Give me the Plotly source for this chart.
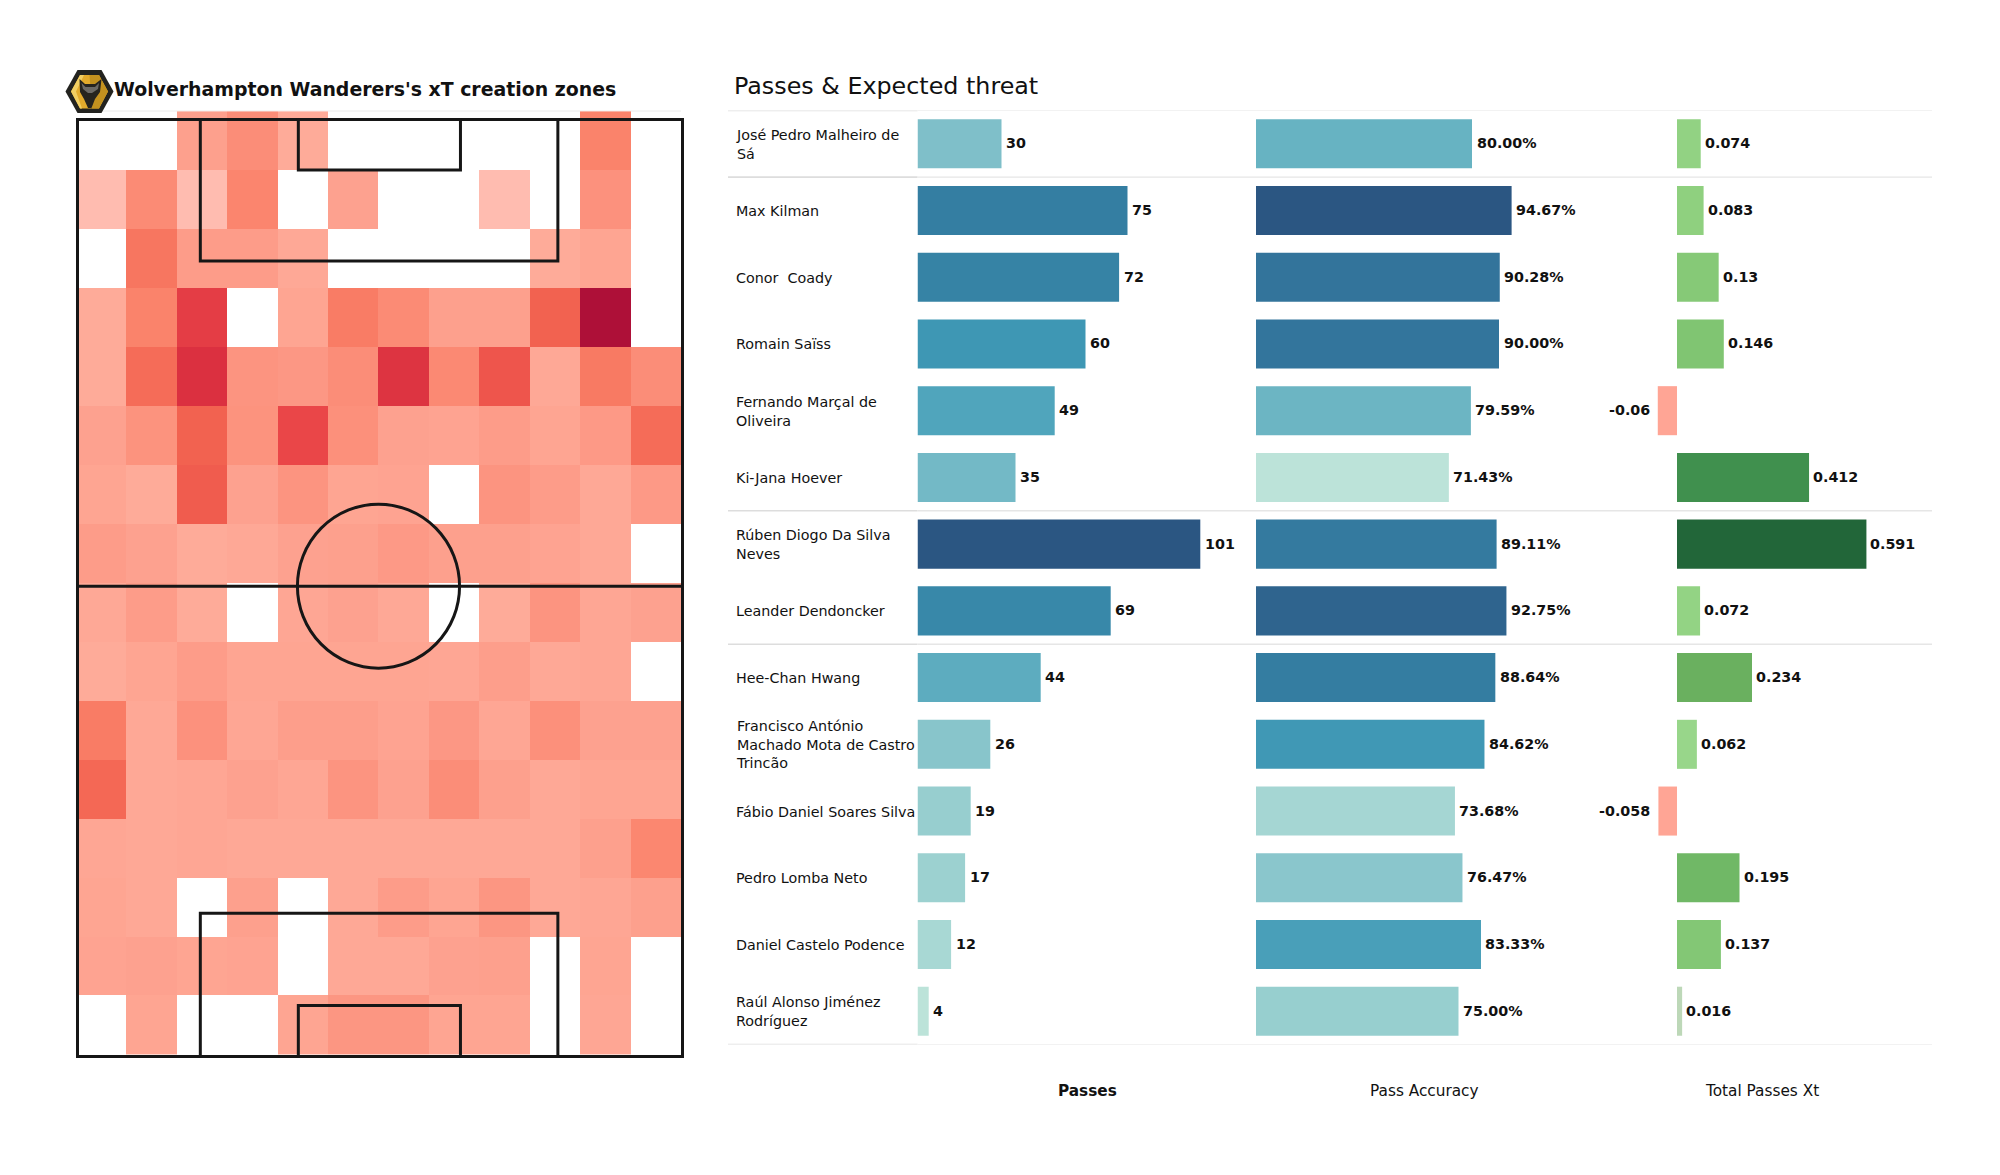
import plotly.graph_objects as go

W, H = 2000, 1175

# ---------- data ----------
players = [
    "José Pedro Malheiro de<br>Sá", "Max Kilman", "Conor  Coady", "Romain Saïss",
    "Fernando Marçal de<br>Oliveira", "Ki-Jana Hoever", "Rúben Diogo Da Silva<br>Neves",
    "Leander Dendoncker", "Hee-Chan Hwang",
    "Francisco António<br>Machado Mota de Castro<br>Trincão",
    "Fábio Daniel Soares Silva", "Pedro Lomba Neto", "Daniel Castelo Podence",
    "Raúl Alonso Jiménez<br>Rodríguez",
]
passes = [30, 75, 72, 60, 49, 35, 101, 69, 44, 26, 19, 17, 12, 4]
accuracy = [80.00, 94.67, 90.28, 90.00, 79.59, 71.43, 89.11, 92.75, 88.64, 84.62, 73.68, 76.47, 83.33, 75.00]
total_xt = [0.074, 0.083, 0.13, 0.146, -0.06, 0.412, 0.591, 0.072, 0.234, 0.062, -0.058, 0.195, 0.137, 0.016]
separator_rows = [-0.5, 0.5, 5.5, 7.5, 13.5]
column_titles = ["Passes", "Pass Accuracy", "Total Passes Xt"]

zones = [
    [None, None, .18, .30, .12, None, None, None, None, None, .38, None],
    [.05, .32, .05, .36, None, .17, None, None, .05, None, .27, None],
    [None, .45, .20, .20, .13, None, None, None, None, .12, .15, None],
    [.12, .38, .75, None, .15, .42, .32, .18, .18, .55, 1.0, None],
    [.12, .50, .82, .25, .23, .30, .80, .33, .62, .13, .43, .30],
    [.17, .26, .55, .26, .70, .28, .17, .16, .20, .15, .22, .50],
    [.15, .12, .58, .17, .25, .15, .16, None, .25, .20, .13, .22],
    [.20, .17, .12, .13, .17, .18, .22, .18, .18, .16, .13, None],
    [.13, .20, .12, None, .14, .17, .13, None, .12, .25, .14, .17],
    [.12, .15, .20, .15, .15, .15, .15, .14, .19, .13, .14, None],
    [.42, .13, .27, .14, .19, .19, .16, .23, .14, .28, .17, .17],
    [.52, .13, .14, .17, .14, .25, .17, .30, .18, .13, .15, .15],
    [.14, .13, .14, .13, .13, .13, .13, .13, .13, .13, .18, .35],
    [.15, .13, None, .18, None, .13, .20, .15, .24, .13, .14, .18],
    [.16, .17, .15, .16, None, .13, .13, .17, .18, None, .15, None],
    [None, .15, None, None, .15, .24, .24, .15, .15, None, .14, None],
]

# ---------- styles ----------
FONT = "DejaVu Sans"
INK = "#111111"
LINE = "#161616"
heat_scale = [
    [0, "#ffbfb3"], [.05, "#ffbcb0"], [.13, "#fea896"], [.25, "#fc9480"], [.40, "#fa8068"],
    [.55, "#f26250"], [.70, "#ea4648"], [.82, "#db3040"], [1, "#ae1038"],
]
blue_scale = [
    [0, "#bce3d9"], [.15, "#98cfcf"], [.27, "#7fbfc9"], [.37, "#67b3c2"], [.46, "#51a5bc"],
    [.58, "#3e97b4"], [.73, "#347ea2"], [.85, "#336f98"], [1, "#2b5682"],
]
xt_scale = [
    [0, "#ffa595"], [.09, "#ffa595"], [.095, "#c4dcc0"], [.1167, "#bdd8b8"], [.187, "#98d68a"],
    [.206, "#92d283"], [.22, "#8fd07f"], [.292, "#86c977"], [.316, "#80c572"], [.392, "#70b866"],
    [.452, "#6ab05f"], [.725, "#40904e"], [1, "#226639"],
]


def pxx(v):
    return v / W


def pxy(v):
    return 1 - v / H


fig = go.Figure()

# ---------- pitch heat map ----------
fig.add_trace(go.Heatmap(
    z=zones, x0=3.917, dx=100 / 12, y0=2.285, dy=6.29,
    colorscale=heat_scale, zmin=0, zmax=1, showscale=False, hoverongaps=False,
    xaxis="x", yaxis="y",
))

pitch_shapes = [
    (0, 0, 100, 100), (20.3, 0, 79.4, 15.1), (36.5, 0, 63.3, 5.4),
    (20.3, 84.7, 79.4, 100), (36.5, 94.55, 63.3, 100),
]
shapes = []
for x0, y0, x1, y1 in pitch_shapes:
    shapes.append(dict(type="rect", xref="x", yref="y", x0=x0, y0=y0, x1=x1, y1=y1,
                       line=dict(color=LINE, width=3), layer="above"))
shapes.append(dict(type="line", xref="x", yref="y", x0=0, x1=100, y0=49.8, y1=49.8,
                   line=dict(color=LINE, width=3), layer="above"))
shapes.append(dict(type="circle", xref="x", yref="y", x0=36.35, x1=63.15, y0=41.05, y1=58.55,
                   line=dict(color=LINE, width=3), layer="above"))
shapes.append(dict(type="line", xref="paper", yref="paper", x0=pxx(76), x1=pxx(681),
                   y0=pxy(111), y1=pxy(111), line=dict(color="#ececec", width=1), layer="below"))

# ---------- bars ----------
rows = list(range(len(players)))
fig.add_trace(go.Bar(
    x=passes, y=rows, orientation="h", width=0.735, xaxis="x2", yaxis="y2",
    marker=dict(color=passes, colorscale=blue_scale, cmin=min(passes), cmax=max(passes), line_width=0),
))
fig.add_trace(go.Bar(
    x=accuracy, y=rows, orientation="h", width=0.735, xaxis="x3", yaxis="y2",
    marker=dict(color=accuracy, colorscale=blue_scale, cmin=min(accuracy), cmax=max(accuracy), line_width=0),
))
fig.add_trace(go.Bar(
    x=total_xt, y=rows, orientation="h", width=0.735, xaxis="x4", yaxis="y2",
    marker=dict(color=total_xt, colorscale=xt_scale, cmin=min(total_xt), cmax=max(total_xt), line_width=0),
))

# separators
for r in separator_rows:
    shapes.append(dict(type="line", xref="paper", yref="y2", x0=pxx(728), x1=pxx(917.5), y0=r, y1=r,
                       line=dict(color="#dddddd", width=1.6), layer="below"))
    shapes.append(dict(type="line", xref="paper", yref="y2", x0=pxx(917.5), x1=pxx(1932), y0=r, y1=r,
                       line=dict(color="#e6e6e6", width=1.4), layer="below"))

# ---------- logo ----------
def poly(points, fill, line=None, w=0):
    d = "M " + " L ".join(f"{pxx(x):.5f},{pxy(y):.5f}" for x, y in points) + " Z"
    return dict(type="path", xref="paper", yref="paper", path=d, fillcolor=fill,
                line=dict(color=line or fill, width=w), layer="above")


shapes += [
    poly([(65.5, 91.5), (77.5, 70), (101.5, 70), (113.5, 91.5), (101.5, 113), (77.5, 113)], "#23231f"),
    poly([(71, 91.5), (80, 75), (99, 75), (108, 91.5), (99, 108.5), (80, 108.5)], "#e3ab2c"),
    poly([(89.5, 75), (99, 75), (108, 91.5), (99, 108.5), (92, 108.5)], "#c4921f"),
    poly([(71, 91.5), (80, 75), (84, 75), (76, 91.5), (82, 108.5), (80, 108.5)], "#f2cf63"),
    poly([(79.5, 79), (85, 84), (95, 84), (101.5, 79), (100, 92), (95, 99), (91.5, 108), (88, 108), (84, 99), (80, 92)], "#26241f"),
    poly([(81.5, 83), (85.5, 87), (95, 87), (99, 83), (98, 89), (92, 93), (88, 93), (83, 89)], "#6c6a66"),
]

# ---------- text ----------
ann = []
for r, name in zip(rows, players):
    ann.append(dict(text=name, xref="paper", yref="y2", x=pxx(733.5), y=r, yshift=-0.5, xanchor="left",
                    yanchor="middle", align="left", showarrow=False,
                    font=dict(family=FONT, size=14.3, color=INK)))

value_font = dict(family=FONT, size=14.3, color=INK)
columns = [
    ("x2", passes, [str(v) for v in passes], 2.5),
    ("x3", accuracy, [f"{v:.2f}%" for v in accuracy], 2.5),
    ("x4", total_xt, [f"{v:g}" for v in total_xt], 2),
]
for xref, values, labels, gap in columns:
    for r, v, label in zip(rows, values, labels):
        ann.append(dict(text=f"<b>{label}</b>", xref=xref, yref="y2", x=v, y=r, yshift=0.5,
                        xshift=gap if v >= 0 else -6, xanchor="left" if v >= 0 else "right",
                        yanchor="middle", showarrow=False, font=value_font))

ann.append(dict(text="<b>Wolverhampton Wanderers's xT creation zones</b>", xref="paper", yref="paper",
                x=pxx(111.5), y=pxy(89), xanchor="left", yanchor="middle", showarrow=False,
                font=dict(family=FONT, size=18.9, color=INK)))
ann.append(dict(text="Passes &amp; Expected threat", xref="paper", yref="paper",
                x=pxx(731.5), y=pxy(86), xanchor="left", yanchor="middle", showarrow=False,
                font=dict(family=FONT, size=23.8, color=INK)))
for title, cx, bold in zip(column_titles, [1087, 1424.5, 1762], [True, False, False]):
    ann.append(dict(text=f"<b>{title}</b>" if bold else title, xref="paper", yref="paper",
                    x=pxx(cx), y=pxy(1090.5), xanchor="center", yanchor="middle", showarrow=False,
                    font=dict(family=FONT, size=15.3, color=INK)))

# ---------- layout ----------
hidden = dict(visible=False, showgrid=False, zeroline=False, fixedrange=True)
fig.update_layout(
    width=W, height=H, margin=dict(l=0, r=0, t=0, b=0, pad=0),
    paper_bgcolor="white", plot_bgcolor="rgba(0,0,0,0)",
    showlegend=False, barmode="overlay",
    font=dict(family=FONT),
    shapes=shapes, annotations=ann,
    xaxis=dict(domain=[pxx(60), pxx(700)], range=[-2.893, 102.893], **hidden),
    yaxis=dict(domain=[pxy(1065), pxy(100)], range=[100.9, -2.08], **hidden),
    xaxis2=dict(domain=[pxx(917.5), pxx(1240)], range=[0, 322.5 / 2.8], anchor="y2", **hidden),
    xaxis3=dict(domain=[pxx(1256), pxx(1640)], range=[0, 384 / 2.7], anchor="y2", **hidden),
    xaxis4=dict(domain=[pxx(1640), pxx(1932)], range=[(1640 - 1677) / 320.5, (1932 - 1677) / 320.5], anchor="y2", **hidden),
    yaxis2=dict(domain=[pxy(1044.6), pxy(110.4)], range=[13.5, -0.5], anchor="x2", **hidden),
)

fig.write_html("out.html", config={"displayModeBar": False},
               post_script="document.body.style.margin='0';document.body.style.overflow='hidden';")
